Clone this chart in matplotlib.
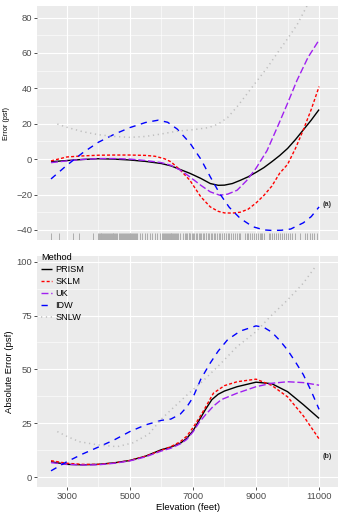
import matplotlib
matplotlib.use("Agg")
import matplotlib.pyplot as plt
from matplotlib.ticker import FixedLocator
import matplotlib.transforms as mtransforms

plt.rcParams["font.family"] = ["Liberation Sans", "DejaVu Sans"]
plt.rcParams["lines.scale_dashes"] = False

# ---- signed error by elevation (psf) ----
prism_x = [2500, 3000, 3500, 4000, 4500, 5000, 5500, 6000, 6300, 6600, 6900, 7250, 7550, 7800,
           8000, 8250, 8500, 8750, 9000, 9250, 9500, 9750, 10000, 10250, 10500, 10750, 11000]
prism_err = [-1.5, -0.8, -0.2, 0.2, 0.0, -0.5, -1.3, -2.5, -3.8, -5.9, -8.0, -10.9, -13.8, -14.8,
             -14.7, -13.8, -12.0, -10.0, -7.5, -4.8, -1.5, 2.0, 6.0, 11.0, 16.5, 22.0, 28.0]

sklm_x = [2500, 3000, 3500, 4000, 4500, 5000, 5500, 5800, 6100, 6300, 6600, 6900, 7250, 7550, 7800,
          8000, 8250, 8500, 8750, 9000, 9250, 9500, 9750, 10000, 10250, 10500, 10750, 11000]
sklm_err = [-1.0, 1.2, 1.8, 2.2, 2.3, 2.3, 2.1, 1.6, 0.2, -1.5, -6.2, -11.9, -21.3, -27.0, -29.5,
            -30.4, -30.5, -30.0, -28.3, -24.8, -20.5, -15.3, -8.0, -3.0, 6.0, 16.5, 28.0, 41.0]

uk_x = [2500, 3000, 3500, 4000, 4500, 5000, 5500, 6000, 6300, 6600, 6900, 7250, 7550, 7850, 8100,
        8400, 8700, 9000, 9350, 9700, 10000, 10300, 10650, 11000]
uk_err = [-2.0, -1.0, -0.2, 0.3, 0.3, 0.0, -0.8, -2.0, -3.5, -6.2, -10.0, -14.8, -18.5, -20.4, -19.8,
          -17.6, -12.2, -5.2, 4.8, 19.0, 31.5, 44.5, 57.5, 67.3]

idw_x = [2500, 3000, 3500, 4000, 4500, 5000, 5500, 5900, 6200, 6500, 6900, 7250, 7550, 7850, 8150,
         8500, 8900, 9250, 9500, 9800, 10100, 10500, 10750, 11000]
idw_err = [-11.2, -3.5, 3.5, 9.5, 14.0, 17.8, 20.7, 22.0, 20.8, 17.0, 9.2, 0.0, -10.0, -19.5, -27.2,
           -33.5, -38.2, -40.0, -40.3, -40.2, -39.5, -36.0, -32.5, -27.0]

snlw_x = [2700, 3000, 3500, 4000, 4500, 5000, 5500, 6000, 6500, 7000, 7500, 7800, 8100, 8400, 8700,
          9000, 9350, 9700, 10000, 10300, 10600, 11000]
snlw_err = [19.8, 18.0, 15.5, 13.8, 12.8, 12.3, 12.8, 14.2, 15.8, 16.6, 17.8, 19.8, 23.5, 29.6, 36.5,
            43.5, 51.5, 60.5, 68.0, 75.8, 86.0, 100.0]

# ---- absolute error by elevation (psf) ----
prism_abs_x = [2500, 3000, 3500, 4000, 4500, 5000, 5500, 6000, 6300, 6600, 6800, 7000, 7200, 7400,
               7600, 7800, 8000, 8400, 9000, 9500, 10000, 10500, 11000]
prism_abs = [7.2, 6.0, 5.8, 6.0, 6.7, 7.8, 9.8, 12.8, 14.0, 15.8, 18.0, 21.5, 26.5, 31.5,
             36.0, 38.5, 40.0, 42.0, 44.1, 43.4, 39.7, 33.7, 27.3]

sklm_abs_x = [2500, 3000, 3500, 4000, 4500, 5000, 5500, 6000, 6300, 6600, 6800, 7000, 7200, 7400,
              7650, 8000, 8400, 9000, 9500, 10000, 10500, 11000]
sklm_abs = [7.7, 6.5, 6.0, 6.0, 6.6, 7.8, 9.8, 12.5, 14.2, 16.5, 19.0, 23.0, 27.5, 32.5,
            39.0, 42.5, 44.3, 45.5, 42.6, 37.3, 28.5, 17.8]

uk_abs_x = [2500, 3000, 3500, 4000, 4500, 5000, 5500, 6000, 6300, 6600, 6800, 7000, 7200, 7400,
            7650, 7900, 8400, 9000, 9500, 10000, 10500, 11000]
uk_abs = [6.8, 6.0, 5.7, 5.8, 6.5, 7.6, 9.5, 12.2, 13.5, 15.5, 17.5, 21.0, 25.5, 29.0,
          33.0, 36.0, 39.0, 42.0, 43.6, 44.3, 43.9, 42.7]

idw_abs_x = [2500, 3000, 3500, 4000, 4500, 5000, 5500, 6000, 6300, 6600, 6800, 7000, 7250, 7550,
             7800, 8100, 8500, 9000, 9250, 9500, 9750, 10000, 10250, 10500, 10750, 11000]
idw_abs = [3.0, 7.2, 10.8, 14.0, 17.3, 21.2, 24.3, 26.4, 27.0, 29.3, 32.5, 37.0, 45.5, 53.0,
           58.5, 63.8, 67.8, 70.2, 69.5, 67.3, 63.5, 59.0, 53.5, 47.6, 40.0, 31.5]

snlw_abs_x = [2700, 3000, 3400, 4000, 4600, 5100, 5600, 6000, 6300, 6800, 7350, 7900, 8400, 9000,
              9450, 10000, 10500, 10900]
snlw_abs = [21.2, 19.0, 16.5, 15.0, 14.2, 16.0, 20.0, 27.0, 31.2, 38.0, 45.1, 53.0, 60.6, 67.5,
            74.5, 82.2, 90.0, 98.0]

# ---- station elevations (rug) ----
station_elev = [
    2510, 2750, 3210, 3400, 3830,
    3990, 4010, 4040, 4070, 4100, 4125, 4150, 4180, 4210, 4240, 4270, 4300, 4330, 4360, 4390,
    4420, 4450, 4480, 4510, 4540, 4570, 4600, 4660, 4690, 4720, 4750, 4780, 4810, 4840, 4870,
    4900, 4930, 4960, 4990, 5020, 5050, 5080, 5110, 5140, 5170, 5200, 5226,
    5309, 5385, 5468, 5544, 5627, 5703, 5786, 5862, 5945,
    6021, 6050, 6080, 6110, 6140, 6170, 6200, 6230, 6260, 6290, 6320, 6350, 6380, 6410, 6440,
    6470, 6500, 6540, 6603, 6689,
    6737, 6770, 6800, 6860, 6890, 6920, 6980, 7010, 7040, 7100, 7130, 7190, 7220, 7250, 7310,
    7340, 7400, 7430, 7490, 7520, 7580, 7610, 7670, 7700, 7760, 7820, 7850, 7910, 7970, 8000,
    8060, 8120, 8150, 8210, 8270, 8330, 8390, 8450, 8486,
    8640, 8700, 8760, 8820, 8880, 8940, 9000, 9060, 9117,
    9150, 9190, 9244,
    9403, 9450, 9520, 9570, 9640, 9700, 9770, 9820, 9890, 9950, 10020, 10091,
    10142, 10250, 10409, 10568, 10630, 10700, 10760, 10833, 10937,
]

methods = ["PRISM", "SKLM", "UK", "IDW", "SNLW"]
colors = {"PRISM": "black", "SKLM": "#FF0000", "UK": "#A020F0", "IDW": "#0000FF", "SNLW": "#BEBEBE"}
dashes = {"PRISM": None, "SKLM": (2.2, 1.5), "UK": (5.0, 2.0), "IDW": (4.5, 4.0), "SNLW": (0.9, 2.6)}
widths = {"PRISM": 1.0, "SKLM": 1.0, "UK": 1.0, "IDW": 1.0, "SNLW": 1.1}

err_series = {
    "PRISM": (prism_x, prism_err), "SKLM": (sklm_x, sklm_err), "UK": (uk_x, uk_err),
    "IDW": (idw_x, idw_err), "SNLW": (snlw_x, snlw_err),
}
abs_series = {
    "PRISM": (prism_abs_x, prism_abs), "SKLM": (sklm_abs_x, sklm_abs), "UK": (uk_abs_x, uk_abs),
    "IDW": (idw_abs_x, idw_abs), "SNLW": (snlw_abs_x, snlw_abs),
}

x_ticks = [3000, 5000, 7000, 9000, 11000]
x_minor = [4000, 6000, 8000, 10000]
err_ticks = [-40, -20, 0, 20, 40, 60, 80]
err_minor = [-30, -10, 10, 30, 50, 70]
abs_ticks = [0, 25, 50, 75, 100]
abs_minor = [12.5, 37.5, 62.5, 87.5]

W, H = 339, 512
fig = plt.figure(figsize=(W / 100, H / 100), dpi=100)
ax1 = fig.add_axes([37.3 / W, 1 - 240 / H, 300.7 / W, 234 / H])
ax2 = fig.add_axes([37.3 / W, 1 - 487 / H, 300.7 / W, 231 / H])

TICK_FS = 6.8
TICK_COLOR = "#4D4D4D"


def style_axes(ax, yticks, yminor):
    ax.set_facecolor("#EBEBEB")
    for s in ax.spines.values():
        s.set_visible(False)
    ax.xaxis.set_major_locator(FixedLocator(x_ticks))
    ax.xaxis.set_minor_locator(FixedLocator(x_minor))
    ax.yaxis.set_major_locator(FixedLocator(yticks))
    ax.yaxis.set_minor_locator(FixedLocator(yminor))
    ax.grid(which="major", color="white", linewidth=0.8)
    ax.grid(which="minor", color="white", linewidth=0.4)
    ax.set_axisbelow(True)
    ax.tick_params(which="major", length=2.2, width=0.6, color="#333333",
                   labelsize=TICK_FS, labelcolor=TICK_COLOR, pad=1.5)
    ax.tick_params(which="minor", length=0)
    ax.set_xlim(2065, 11600)


def draw_series(ax, series):
    handles = []
    for m in methods:
        xs, ys = series[m]
        line, = ax.plot(xs, ys, color=colors[m], linewidth=widths[m], label=m,
                        solid_capstyle="butt", dash_capstyle="butt")
        if dashes[m] is not None:
            line.set_dashes(dashes[m])
        handles.append(line)
    return handles


# top panel: signed error with station rug
style_axes(ax1, err_ticks, err_minor)
ax1.set_ylim(-45.7, 86.5)
draw_series(ax1, err_series)
rug_tf = mtransforms.blended_transform_factory(ax1.transData, ax1.transAxes)
ax1.vlines(station_elev, 0.0, 0.032, transform=rug_tf, color="#ADADAD", linewidth=0.7)
ax1.tick_params(axis="x", which="both", length=0, labelbottom=False)
ax1.set_ylabel("Error (psf)", fontsize=5.2, color="black", labelpad=4)
ax1.text(11250, -25.5, "(a)", fontsize=5.2, color="#333333", fontweight="bold",
         ha="center", va="center")

# bottom panel: absolute error with legend
style_axes(ax2, abs_ticks, abs_minor)
ax2.set_ylim(-4.5, 102.6)
handles = draw_series(ax2, abs_series)
ax2.set_ylabel("Absolute Error (psf)", fontsize=6.8, color="black", labelpad=2)
ax2.set_xlabel("Elevation (feet)", fontsize=6.8, color="black", labelpad=1.5)
ax2.text(11250, 9.5, "(b)", fontsize=5.2, color="#333333", fontweight="bold",
         ha="center", va="center")

leg = ax2.legend(handles=handles, labels=methods, title="Method", loc="upper left",
                 bbox_to_anchor=(0.0, 1.03), frameon=False, fontsize=6.6,
                 title_fontsize=6.6, handlelength=1.2, handletextpad=0.35,
                 labelspacing=0.33, borderaxespad=0.2, borderpad=0.2)
leg._legend_box.align = "left"

fig.savefig("out.png", dpi=100)
